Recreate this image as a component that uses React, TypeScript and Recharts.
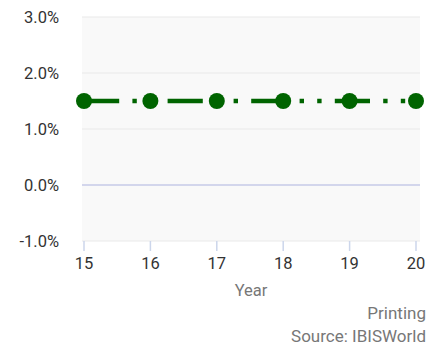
import React from 'react';
import { LineChart, Line, XAxis, YAxis, CartesianGrid, ReferenceLine } from 'recharts';

const years = [15, 16, 17, 18, 19, 20];
const growth = [1.5, 1.5, 1.5, 1.5, 1.5, 1.5];
const yTicks = [-1, 0, 1, 2, 3];
const xLabel = 'Year';
const captionTitle = 'Printing';
const captionSource = 'Source: IBISWorld';

const data = years.map((y, i) => ({ year: y, value: growth[i] }));

const font = 'Roboto, "Noto Sans", sans-serif';

export default function App() {
  return (
    <div style={{ position: 'absolute', left: 0, top: 0, width: 442, height: 345, background: '#fff', fontFamily: font }}>
      <LineChart width={442} height={345} data={data} margin={{ top: 17, right: 22, left: 0, bottom: 74 }}>
        <CartesianGrid horizontal={true} vertical={false} stroke="#e9e9e9" fill="#f9f9f9" />
        <XAxis
          dataKey="year"
          type="number"
          domain={[15, 20]}
          ticks={years}
          padding={{ left: 2, right: 4 }}
          axisLine={false}
          tickLine={{ stroke: '#ccd6eb', strokeWidth: 1.5 }}
          tickSize={10}
          tickMargin={6}
          height={30}
          tick={{ fill: '#333', fontSize: 16.5, fontFamily: font }}
        />
        <YAxis
          type="number"
          domain={[-1, 3]}
          ticks={yTicks}
          width={82}
          axisLine={false}
          tickLine={false}
          tickSize={0}
          tickMargin={23}
          tickFormatter={(v: number) => v.toFixed(1) + '%'}
          tick={{ fill: '#333', fontSize: 16.5, fontFamily: font }}
        />
        <ReferenceLine y={0} stroke="#d3d6ec" strokeWidth={2} />
        <Line
          type="linear"
          dataKey="value"
          stroke="#006400"
          strokeWidth={4.4}
          strokeDasharray="35.2 13.2 4.4 13.2 4.4 13.2"
          dot={{ r: 8, fill: '#006400', stroke: 'none' }}
          activeDot={false}
          isAnimationActive={false}
        />
      </LineChart>
      <div style={{ position: 'absolute', left: 151, width: 200, top: 282, textAlign: 'center', fontSize: 16.5, lineHeight: '17px', color: '#777' }}>{xLabel}</div>
      <div style={{ position: 'absolute', right: 16, top: 305, textAlign: 'right', fontSize: 17, lineHeight: '17px', color: '#777' }}>{captionTitle}</div>
      <div style={{ position: 'absolute', right: 16, top: 328, textAlign: 'right', fontSize: 17, lineHeight: '17px', color: '#777' }}>{captionSource}</div>
    </div>
  );
}
